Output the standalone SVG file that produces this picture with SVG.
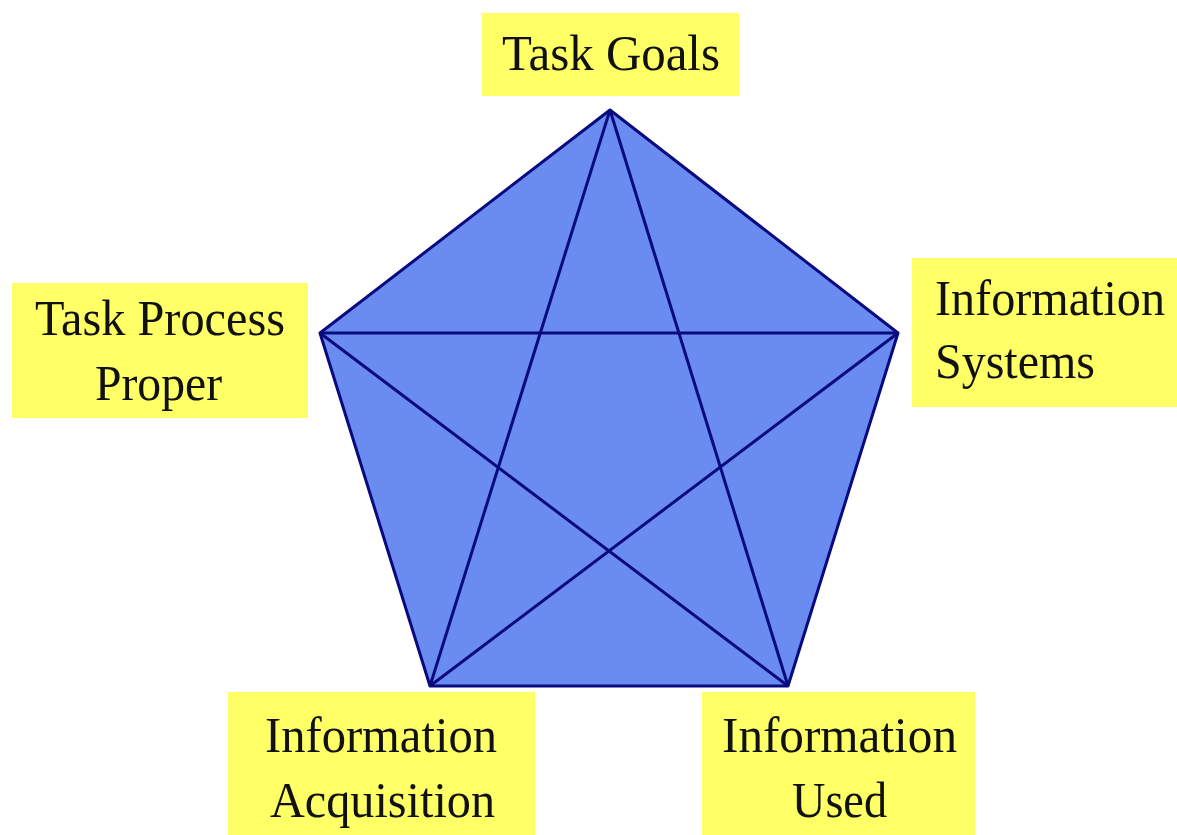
<svg xmlns="http://www.w3.org/2000/svg" width="1177" height="835" viewBox="0 0 1177 835">
<style>
.box{fill:#ffff66;}
.t{font-family:"Liberation Serif",serif;font-size:50px;fill:#111;}
.edge{stroke:#0a0a80;stroke-width:3;fill:none;stroke-linejoin:round;}
</style>
<rect width="1177" height="835" fill="#ffffff"/>
<g id="pentagon">
<polygon points="610,110 898,333 788,686 430,686 320,333" fill="#6a8cf0"/>
</g>
<g id="connectors">
<polygon class="edge" points="610,110 898,333 788,686 430,686 320,333"/>
<line class="edge" x1="610" y1="110" x2="430" y2="686"/>
<line class="edge" x1="610" y1="110" x2="788" y2="686"/>
<line class="edge" x1="320" y1="333" x2="898" y2="333"/>
<line class="edge" x1="320" y1="333" x2="788" y2="686"/>
<line class="edge" x1="898" y1="333" x2="430" y2="686"/>
</g>
<g id="task-goals">
<rect class="box" x="482" y="13" width="257" height="83"/>
<text class="t" x="502" y="70" textLength="218" lengthAdjust="spacingAndGlyphs">Task Goals</text>
</g>
<g id="task-process-proper">
<rect class="box" x="12" y="283" width="296" height="135"/>
<text class="t" x="35" y="335" textLength="250" lengthAdjust="spacingAndGlyphs">Task Process</text>
<text class="t" x="95" y="400" textLength="127" lengthAdjust="spacingAndGlyphs">Proper</text>
</g>
<g id="information-systems">
<rect class="box" x="912" y="258" width="265" height="149"/>
<text class="t" x="935" y="315" textLength="230" lengthAdjust="spacingAndGlyphs">Information</text>
<text class="t" x="935" y="378" textLength="160" lengthAdjust="spacingAndGlyphs">Systems</text>
</g>
<g id="information-acquisition">
<rect class="box" x="228" y="692" width="307" height="143"/>
<text class="t" x="265" y="752" textLength="232" lengthAdjust="spacingAndGlyphs">Information</text>
<text class="t" x="270" y="817" textLength="225" lengthAdjust="spacingAndGlyphs">Acquisition</text>
</g>
<g id="information-used">
<rect class="box" x="702" y="692" width="273" height="143"/>
<text class="t" x="722" y="752" textLength="235" lengthAdjust="spacingAndGlyphs">Information</text>
<text class="t" x="792" y="817" textLength="95" lengthAdjust="spacingAndGlyphs">Used</text>
</g>
</svg>
